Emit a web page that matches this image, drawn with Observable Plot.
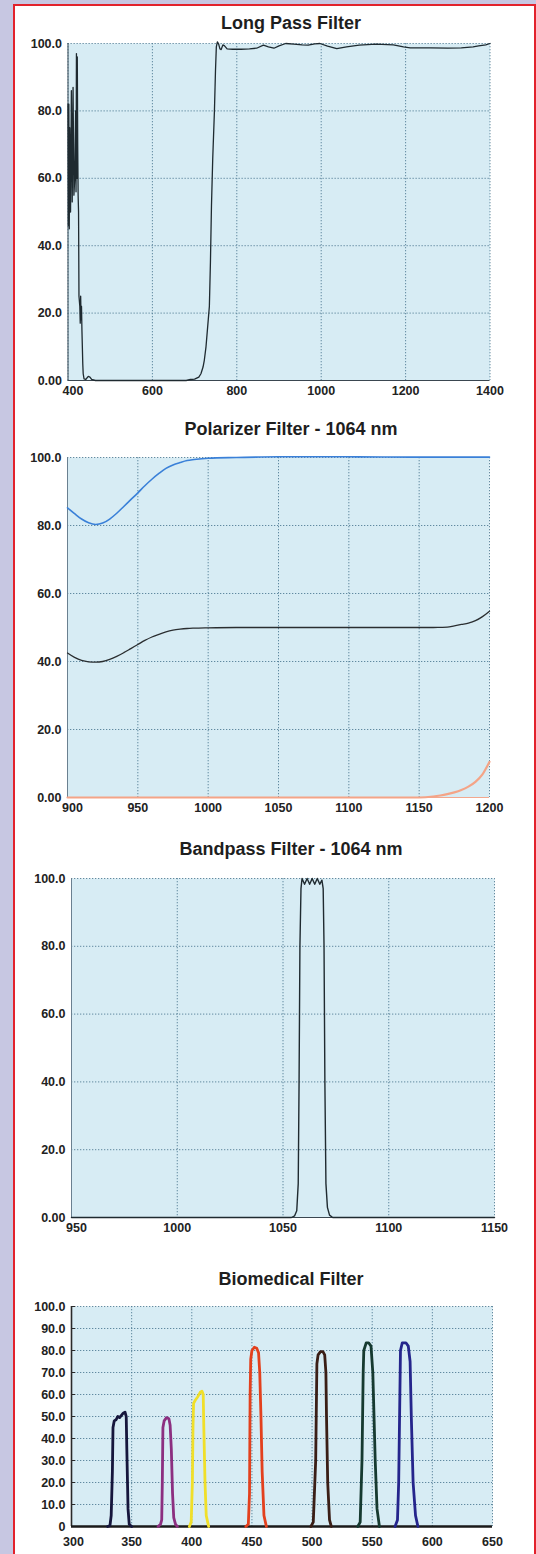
<!DOCTYPE html>
<html><head><meta charset="utf-8">
<script src="https://cdn.jsdelivr.net/npm/d3@7"></script>
<script src="https://cdn.jsdelivr.net/npm/@observablehq/plot@0.6"></script>
<style>
html,body{margin:0;padding:0;}
body{background:#c7c7e2;width:536px;height:1554px;overflow:hidden;position:relative;font-family:"Liberation Sans",Arial,sans-serif;}
#panel{position:absolute;left:13px;top:4px;width:519px;height:1600px;border:2px solid #e2222c;background:#fff;}
.title{position:absolute;left:0;width:582px;text-align:center;font-weight:bold;font-size:18px;line-height:20px;color:#1e1e1e;}
</style></head><body>
<div id="panel"></div>
<div id="root"></div>
<script>
// ---------- Long Pass Filter ----------
const longPassWl = [400,401,402,403,404,406,408,410,412,414,416,418,419,420,421,422,423,424,425,426,428,429,430,431,432,433,434,435,436,438,442,448,452,456,465,680,690,700,710,715,720,723,727,731,735,737.5,740,743,747,749.5,751.5,754,757,760,763,767,771,777,790,810,830,847,863,875,888,900,916,935,955,969,985,997,1015,1037,1060,1090,1130,1171,1195,1211,1260,1300,1332,1360,1373,1390,1400];
const longPassT  = [82,46,82,45,75,50,86,53,87,55,60,80,56,97,60,96,70,55,50,25,22,17,25,18,22,15,10,5,2,0.5,0.3,1.2,1.0,0.3,0,0,0.3,0.4,1,2,4,6,10,16,22,35,52,66,80,92,99,100.5,99.8,98.4,98.2,99.6,99.3,98.4,98.3,98.3,98.4,98.6,99.5,99,98.6,99.3,100,99.8,99.6,99.5,99.9,100,99.2,98.5,99,99.5,99.8,99.6,99,98.7,98.7,98.6,98.7,99,99.3,99.6,100];

// ---------- Polarizer Filter - 1064 nm ----------
const polWl    = [900,905,910,915,920,925,930,935,940,945,950,955,960,965,970,975,980,985,990,1000,1020,1050,1100,1150,1160,1165,1170,1175,1180,1185,1190,1195,1200];
const polBlue  = [85.2,83.5,81.9,80.8,80.3,80.7,81.9,83.6,85.6,87.6,89.6,91.7,93.6,95.3,96.8,97.8,98.5,99.1,99.4,99.8,100,100.2,100.2,100.1,100.1,100.1,100.1,100.1,100.1,100.1,100.1,100.1,100.1];
const polBlack = [42.5,41.2,40.3,39.9,39.8,40,40.6,41.5,42.6,43.8,45,46.2,47.2,48,48.7,49.2,49.5,49.7,49.8,49.9,50,50,50,50,50,50.05,50.1,50.5,50.9,51.3,52,53.2,54.8];
const polOrange= [0,0,0,0,0,0,0,0,0,0,0,0,0,0,0,0,0,0,0,0,0,0,0,0,0.3,0.6,1,1.5,2.2,3.2,4.6,6.8,10.5];

// ---------- Bandpass Filter - 1064 nm ----------
const bandWl = [950,1054,1055.5,1056.5,1057.2,1057.6,1058,1058.5,1059,1060.2,1061.4,1062.6,1063.8,1065,1066.2,1067.4,1068.4,1069,1069.4,1069.8,1070.3,1071,1072,1073.5,1150];
const bandT  = [0,0,0.5,2,10,40,80,97,100,98.3,100,98.3,100,98.3,100,98.3,99.5,97,80,40,10,3,0.7,0,0];

// ---------- Biomedical Filter ----------
const bio1Wl = [330,332,333,334,334.5,335.5,337,338.5,340,341.5,343,344.5,345.5,346,347,348,350];
const bio1T  = [0,0.5,5,25,45,48,48.5,50,49.5,50.5,51.5,52,50,35,8,1,0];
const bio2Wl = [372,374,375,375.5,376,377,379,381,382,383,384,385,386.5,388];
const bio2T  = [0,1,3,20,45,48,49.5,49,46,35,15,4,1,0];
const bio3Wl = [398,399.5,400.5,401,401.5,403,405,407,408.5,409.5,410,411,412,414];
const bio3T  = [0,2,20,45,56,57.5,59,61,61.5,60,45,20,5,0];
const bio4Wl = [445,447,448,448.5,449,450,452,454,455.5,456.5,457.5,458.5,460,462];
const bio4T  = [0,1,15,60,76,80,81.5,81,79,70,50,25,5,0];
const bio5Wl = [499,501,503,504,505,507,509,510.5,511.5,512,513,514.5,516];
const bio5T  = [0,2,30,74,78,79.5,79.5,78,70,50,20,3,0];
const bio6Wl = [538,540,541.5,542.5,543,545,547,549,550.5,551.5,552.5,554,556];
const bio6T  = [0,2,30,70,80,83.5,83.5,82,70,50,30,8,0];
const bio7Wl = [569,571,572,573,573.5,575,578,580,581.5,582.5,584,586,588];
const bio7T  = [0,3,20,60,80,83.5,83.5,82,75,50,20,5,0];
const bioColors = ["#16163c","#8c2f80","#f0df2a","#e3401d","#3a1e16","#163a30","#25258c"];

const FONT = '"Liberation Sans", Arial, sans-serif';
const root = document.getElementById("root");

function addTitle(text, cy){
  const d = document.createElement("div");
  d.className = "title";
  d.textContent = text;
  d.style.top = (cy - 10) + "px";
  document.body.appendChild(d);
}

function makeChart(o){
  const mt = 10;
  const ph = o.bottom - o.top;
  const svg = Plot.plot({
    width: 536,
    height: mt + ph + o.mb,
    marginTop: mt, marginBottom: o.mb,
    marginLeft: o.left, marginRight: 536 - o.right,
    x: {domain: o.xDomain},
    y: {domain: [0, 100]},
    style: {fontFamily: FONT, fontSize: "12.5px", fontWeight: "bold", color: "#222", background: "transparent", overflow: "visible"},
    marks: [
      Plot.frame({fill: "#d7ecf4", stroke: "none"}),
      Plot.gridX(o.xTicks, {stroke: "#4b7890", strokeOpacity: 0.85, strokeDasharray: "1.3,1.7", strokeWidth: 1}),
      Plot.gridY(o.yTicks, {stroke: "#4b7890", strokeOpacity: 0.85, strokeDasharray: "1.3,1.7", strokeWidth: 1}),
      Plot.ruleX([o.xDomain[0]], {stroke: o.spine, strokeWidth: o.spineW}),
      ...(o.extra || []),
      Plot.ruleY([0], {stroke: o.base, strokeWidth: o.baseW}),
      ...o.marks,
      Plot.axisX([o.xTicks[0]], {tickSize: 0, tickPadding: o.xPad, tickFormat: d => String(d), label: null, dx: o.firstDx}),
      Plot.axisX(o.xTicks.slice(1), {tickSize: 0, tickPadding: o.xPad, tickFormat: d => String(d), label: null}),
      Plot.axisY(o.yTicks, {tickSize: 0, tickPadding: 6, tickFormat: o.yFmt, label: null})
    ]
  });
  svg.style.position = "absolute";
  svg.style.left = "0px";
  svg.style.top = (o.top - mt) + "px";
  root.appendChild(svg);
}

const fmt = d => d === 0 ? "0.00" : d.toFixed(1);

addTitle("Long Pass Filter", 23);
makeChart({
  top: 43, bottom: 380, left: 67.5, right: 489.5, mb: 30, xPad: 6, firstDx: 5,
  xDomain: [400, 1400], xTicks: [400,600,800,1000,1200,1400],
  yTicks: [0,20,40,60,80,100], yFmt: fmt,
  spine: "#4d5f6b", spineW: 1.2, base: "#3a4650", baseW: 1,
  marks: [Plot.line(longPassWl, {x: longPassWl, y: longPassT, stroke: "#1f2a30", strokeWidth: 1.3})]
});

addTitle("Polarizer Filter - 1064 nm", 429);
makeChart({
  top: 457, bottom: 797, left: 67, right: 489, mb: 30, xPad: 6, firstDx: 5,
  xDomain: [900, 1200], xTicks: [900,950,1000,1050,1100,1150,1200],
  yTicks: [0,20,40,60,80,100], yFmt: fmt,
  spine: "#6a8090", spineW: 1, base: "#f2a88e", baseW: 1,
  marks: [
    Plot.line(polWl, {x: polWl, y: polOrange, stroke: "#f4a487", strokeWidth: 2.2, curve: "monotone-x"}),
    Plot.line(polWl, {x: polWl, y: polBlack, stroke: "#2a2e30", strokeWidth: 1.3, curve: "monotone-x"}),
    Plot.line(polWl, {x: polWl, y: polBlue, stroke: "#3a80d8", strokeWidth: 1.6, curve: "monotone-x"})
  ]
});

addTitle("Bandpass Filter - 1064 nm", 849);
makeChart({
  top: 878, bottom: 1217, left: 71, right: 494, mb: 30, xPad: 6, firstDx: 5,
  xDomain: [950, 1150], xTicks: [950,1000,1050,1100,1150],
  yTicks: [0,20,40,60,80,100], yFmt: fmt,
  spine: "#6a8090", spineW: 1, base: "#3a4650", baseW: 1,
  marks: [Plot.line(bandWl, {x: bandWl, y: bandT, stroke: "#1f2a30", strokeWidth: 1.4})]
});

addTitle("Biomedical Filter", 1279);
const bioBands = [[bio1Wl,bio1T],[bio2Wl,bio2T],[bio3Wl,bio3T],[bio4Wl,bio4T],[bio5Wl,bio5T],[bio6Wl,bio6T],[bio7Wl,bio7T]];
const bioY = [0,10,20,30,40,50,60,70,80,90,100];
makeChart({
  top: 1306, bottom: 1526, left: 71, right: 492, mb: 28, xPad: 11, firstDx: 2,
  xDomain: [300, 650], xTicks: [300,350,400,450,500,550,600,650],
  yTicks: bioY, yFmt: d => d === 0 ? "0" : d.toFixed(1),
  spine: "#2a2a2a", spineW: 1.6, base: "#1a1a1a", baseW: 2.5,
  extra: [Plot.ruleY(bioY, {x1: 300, x2: 303.5, stroke: "#2a2a2a", strokeWidth: 1})],
  marks: bioBands.map(([w, t], i) => Plot.line(w, {x: w, y: t, stroke: bioColors[i], strokeWidth: 2.8, strokeLinejoin: "round"}))
});
</script>
</body></html>
